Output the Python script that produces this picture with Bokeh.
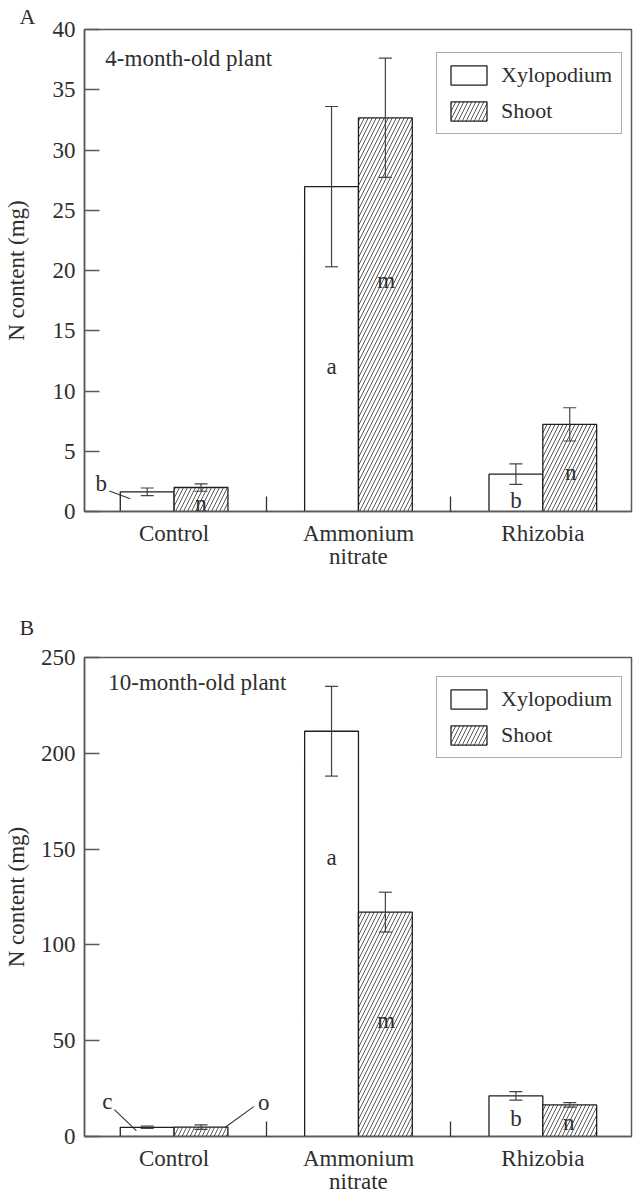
from bokeh.plotting import figure
from bokeh.models import (ColumnDataSource, Whisker, TeeHead, FixedTicker, Range1d,
                          Label, Legend, LegendItem)
from bokeh.layouts import column
from bokeh.embed import file_html
from bokeh.resources import INLINE
from bokeh.core.properties import value

# ---------------- data ----------------
categories = ["Control", "Ammonium\nnitrate", "Rhizobia"]
series = ["Xylopodium", "Shoot"]

a_xylo = [1.63, 26.96, 3.1]
a_xylo_err = [0.32, 6.65, 0.85]
a_shoot = [1.99, 32.67, 7.23]
a_shoot_err = [0.31, 4.95, 1.38]
a_xylo_letters = ["b", "a", "b"]
a_shoot_letters = ["n", "m", "n"]
a_ticks = [0, 5, 10, 15, 20, 25, 30, 35, 40]

b_xylo = [4.8, 211.5, 21.2]
b_xylo_err = [0.6, 23.4, 2.2]
b_shoot = [4.9, 117.1, 16.5]
b_shoot_err = [1.2, 10.4, 1.2]
b_xylo_letters = ["c", "a", "b"]
b_shoot_letters = ["o", "m", "n"]
b_ticks = [0, 50, 100, 150, 200, 250]

# ---------------- styling / annotation placement ----------------
FONT = "Liberation Serif"
TXT = "#2e2e2e"
FRAME = "#5a5a5a"
BAR_LINE = "#1e1e1e"
FS = "23px"
BAR_W = 0.292
OFF = 0.146
X_RANGE = (-0.486, 2.481)

a_lab = dict(xylo_x=[-0.395, 0.854, 1.854], xylo_y=[2.3, 12.0, 0.9],
             shoot_x=[0.146, 1.151, 2.151], shoot_y=[0.7, 19.2, 3.2],
             leaders=[((-0.351, 1.71), (-0.238, 1.05))],
             title=(-0.373, 37.56), legend=(352, 377),
             letter_standoff=1, ylab_standoff=21)
b_lab = dict(xylo_x=[-0.362, 0.854, 1.854], xylo_y=[18.2, 145.5, 9.4],
             shoot_x=[0.486, 1.151, 2.14], shoot_y=[17.7, 60.3, 7.3],
             leaders=[((-0.324, 14.0), (-0.205, 3.1)), ((0.432, 15.6), (0.276, 4.7))],
             title=(-0.357, 237.0), legend=(352, 378),
             letter_standoff=35, ylab_standoff=9)


def make_panel(xylo, xylo_err, shoot, shoot_err, xl, sl, ticks, ymax,
               panel_letter, title, lab, height, top, bottom):
    p = figure(width=634, height=height, output_backend="svg", toolbar_location=None,
               x_range=Range1d(*X_RANGE), y_range=Range1d(0, ymax),
               min_border_left=82, min_border_right=3,
               min_border_top=top, min_border_bottom=bottom,
               title=panel_letter)
    p.xgrid.visible = False
    p.ygrid.visible = False
    p.outline_line_color = FRAME
    p.outline_line_width = 1.5
    p.background_fill_color = "white"
    p.border_fill_color = "white"

    p.title.text_font = FONT
    p.title.text_font_size = "22px"
    p.title.text_font_style = "normal"
    p.title.text_color = TXT
    p.title.align = "left"
    p.title.offset = -65
    p.title.standoff = lab["letter_standoff"]

    idx = list(range(len(categories)))
    xs_x = [i - OFF for i in idx]
    xs_s = [i + OFF for i in idx]
    src_x = ColumnDataSource(dict(x=xs_x, top=xylo,
                                  up=[v + e for v, e in zip(xylo, xylo_err)],
                                  lo=[v - e for v, e in zip(xylo, xylo_err)]))
    src_s = ColumnDataSource(dict(x=xs_s, top=shoot,
                                  up=[v + e for v, e in zip(shoot, shoot_err)],
                                  lo=[v - e for v, e in zip(shoot, shoot_err)]))

    r1 = p.vbar(x="x", top="top", width=BAR_W, source=src_x, fill_color="white",
                line_color=BAR_LINE, line_width=1.3)
    r2 = p.vbar(x="x", top="top", width=BAR_W, source=src_s, fill_color="white",
                line_color=BAR_LINE, line_width=1.3, hatch_pattern="/",
                hatch_color="#444444", hatch_scale=8, hatch_weight=0.9)

    for src in (src_x, src_s):
        w = Whisker(source=src, base="x", upper="up", lower="lo", dimension="height",
                    line_color="#444444", line_width=1.2, level="overlay",
                    upper_head=TeeHead(size=13, line_color="#444444", line_width=1.2),
                    lower_head=TeeHead(size=13, line_color="#444444", line_width=1.2))
        p.add_layout(w)

    # significance letters
    p.text(x=lab["xylo_x"], y=lab["xylo_y"], text=xl, text_font=value(FONT),
           text_font_size=FS, text_align="center", text_baseline="middle",
           text_color=TXT)
    p.text(x=lab["shoot_x"], y=lab["shoot_y"], text=sl, text_font=value(FONT),
           text_font_size=FS, text_align="center", text_baseline="middle",
           text_color=TXT)
    for (x0, y0), (x1, y1) in lab["leaders"]:
        p.segment(x0=[x0], y0=[y0], x1=[x1], y1=[y1], line_color="#333333",
                  line_width=1.1)

    # axes
    p.yaxis.ticker = FixedTicker(ticks=ticks)
    p.yaxis.major_tick_in = 15
    p.yaxis.major_tick_out = 0
    p.yaxis.minor_tick_line_color = None
    p.yaxis.axis_line_color = FRAME
    p.yaxis.axis_line_width = 1.5
    p.yaxis.major_tick_line_color = FRAME
    p.yaxis.major_tick_line_width = 1.3
    p.yaxis.major_label_standoff = 9
    p.yaxis.major_label_text_font = FONT
    p.yaxis.major_label_text_font_size = FS
    p.yaxis.major_label_text_color = TXT
    p.yaxis.axis_label = "N content (mg)"
    p.yaxis.axis_label_text_font = FONT
    p.yaxis.axis_label_text_font_size = FS
    p.yaxis.axis_label_text_font_style = "normal"
    p.yaxis.axis_label_text_color = TXT
    p.yaxis.axis_label_standoff = lab["ylab_standoff"]

    p.xaxis.ticker = FixedTicker(ticks=idx, minor_ticks=[0.5, 1.5])
    p.xaxis.major_label_overrides = {i: c for i, c in zip(idx, categories)}
    p.xaxis.major_tick_line_color = None
    p.xaxis.major_tick_in = 0
    p.xaxis.major_tick_out = 0
    p.xaxis.minor_tick_in = 15
    p.xaxis.minor_tick_out = 0
    p.xaxis.minor_tick_line_color = "#333333"
    p.xaxis.minor_tick_line_width = 1.3
    p.xaxis.axis_line_color = FRAME
    p.xaxis.axis_line_width = 1.5
    p.xaxis.major_label_standoff = 9
    p.xaxis.major_label_text_font = FONT
    p.xaxis.major_label_text_font_size = FS
    p.xaxis.major_label_text_color = TXT
    p.xaxis.major_label_text_line_height = 0.95

    # panel subtitle
    p.add_layout(Label(x=lab["title"][0], y=lab["title"][1], text=title,
                       text_font=FONT, text_font_size=FS, text_color=TXT,
                       text_align="left", text_baseline="middle"))

    legend = Legend(items=[LegendItem(label=series[0], renderers=[r1]),
                           LegendItem(label=series[1], renderers=[r2])],
                    location=lab["legend"])
    legend.label_text_font = FONT
    legend.label_text_font_size = "22px"
    legend.label_text_color = TXT
    legend.glyph_width = 45
    legend.glyph_height = 24
    legend.label_standoff = 10
    legend.spacing = 10
    legend.padding = 9
    legend.border_line_color = FRAME
    legend.border_line_width = 1.3
    legend.background_fill_alpha = 1.0
    p.add_layout(legend)
    return p


pA = make_panel(a_xylo, a_xylo_err, a_shoot, a_shoot_err, a_xylo_letters,
                a_shoot_letters, a_ticks, 40, "A", "4-month-old plant", a_lab,
                height=590, top=29, bottom=79)
pB = make_panel(b_xylo, b_xylo_err, b_shoot, b_shoot_err, b_xylo_letters,
                b_shoot_letters, b_ticks, 250, "B", "10-month-old plant", b_lab,
                height=607, top=67, bottom=59)

layout = column(pA, pB, spacing=0)
open("out.html", "w").write(file_html(layout, INLINE))
